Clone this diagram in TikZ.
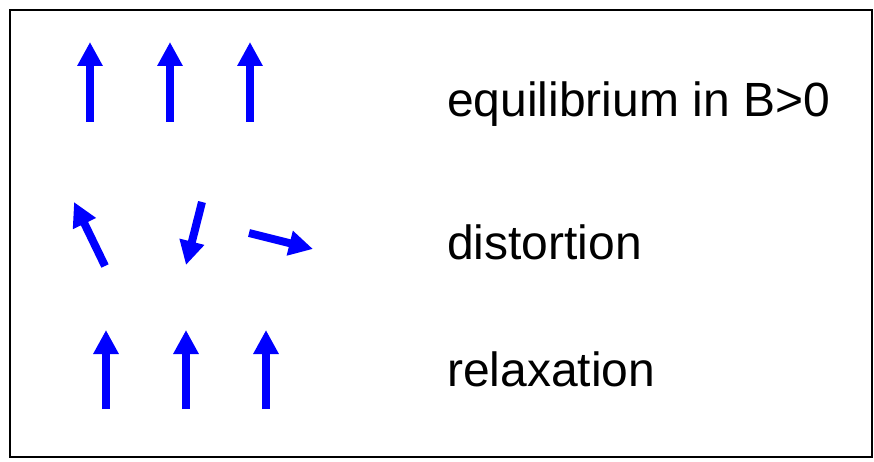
\documentclass[tikz,border=0pt]{standalone}
\usepackage{fontspec}
\setmainfont{Liberation Sans}
\usetikzlibrary{arrows.meta}
\definecolor{spinblue}{RGB}{0,0,255}
\tikzstyle{spin} = [-{Triangle[length=24pt, width=24pt]}, line width=8pt, spinblue]
\tikzstyle{label} = [anchor=base west, inner sep=0pt, font=\fontsize{48}{58}\selectfont]

\begin{document}
\begin{tikzpicture}[x=1pt, y=-1pt]
    \useasboundingbox (0,0) rectangle (874,462);
    \draw[line width=2pt] (10,10) rectangle (872,457);

    % Equilibrium
    \draw[spin] (90,122) -- (90,42);
    \draw[spin] (170,122) -- (170,42);
    \draw[spin] (250,122) -- (250,42);
    \node[label] (equil) at (447,116.5) {equilibrium in B>0};

    % Distortion
    \draw[spin] (105,266) -- (74,202);
    \draw[spin] (202,202) -- (186,265);
    \draw[spin] (249,233) -- (313,249);
    \node[label] (dist) at (447,259) {distortion};

    % Relaxation
    \draw[spin] (106,409) -- (106,330);
    \draw[spin] (186,409) -- (186,330);
    \draw[spin] (266,409) -- (266,330);
    \node[label] (relax) at (447,386) {relaxation};
\end{tikzpicture}
\end{document}
